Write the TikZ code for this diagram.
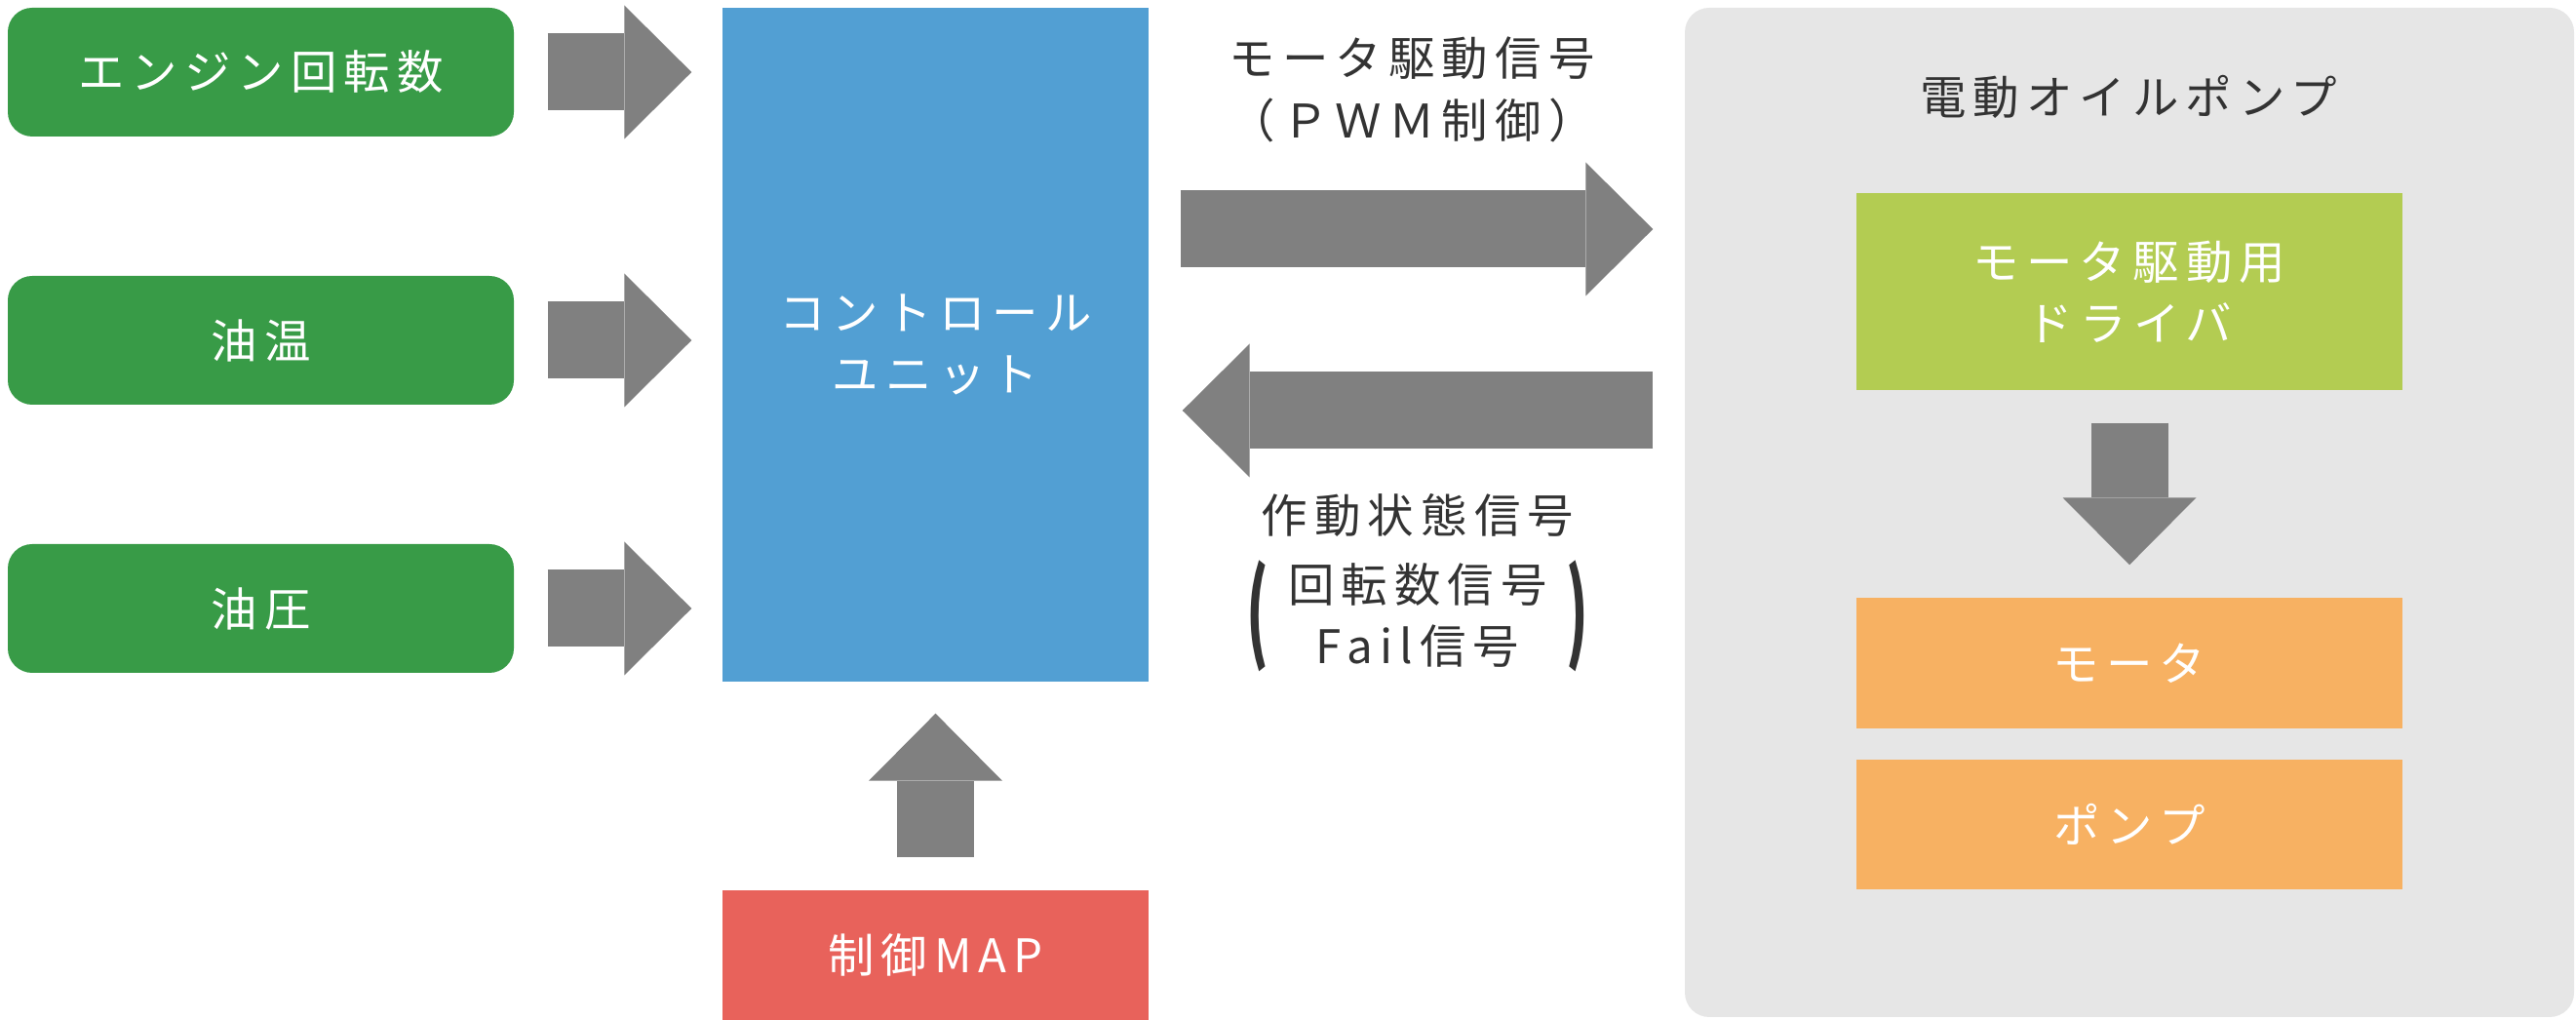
\documentclass[tikz,border=0pt]{standalone}
\usepackage{fontspec}
\setmainfont[LetterSpace=15]{Noto Sans CJK JP}
\usetikzlibrary{arrows.meta}

\definecolor{boxgreen}{HTML}{389B47}
\definecolor{cublue}{HTML}{529FD3}
\definecolor{mapred}{HTML}{E8625B}
\definecolor{drvlime}{HTML}{B3CC52}
\definecolor{partorange}{HTML}{F7B162}
\definecolor{arrowgray}{HTML}{808080}
\definecolor{panelgray}{HTML}{E6E6E6}
\definecolor{labelgray}{HTML}{333333}

\tikzset{
  inbox/.style={rounded corners=0.25cm, fill=boxgreen, text=white, minimum width=5.19cm, minimum height=1.32cm, inner sep=0pt},
  unitbox/.style={fill=#1, text=white, inner sep=0pt, align=center},
  lbl/.style={text=labelgray, inner sep=0pt, align=center},
  fatarrow/.style={draw=arrowgray, line width=0.79cm, -{Triangle[length=0.69cm, width=1.37cm, line width=0pt]}}
}

\begin{document}
\begin{tikzpicture}[every node/.style={font=\fontsize{13.5pt}{18pt}\selectfont}]
    \useasboundingbox (0,0) rectangle (26.42,10.46);

    % inputs
    \node[inbox] (rpm) at (2.675,9.72) {エンジン回転数};
    \node[inbox] (temp) at (2.675,6.97) {油温};
    \node[inbox] (press) at (2.675,4.22) {油圧};

    % control unit and map
    \node[unitbox=cublue, minimum width=4.37cm, minimum height=6.91cm] (cu) at (9.595,6.925) {コントロール\\ユニット};
    \node[unitbox=mapred, minimum width=4.37cm, minimum height=1.33cm] (map) at (9.595,0.665) {制御MAP};

    \draw[fatarrow] ([xshift=0.34cm]rpm.east) -- ([xshift=-0.31cm]rpm.east -| cu.west);
    \draw[fatarrow] ([xshift=0.34cm]temp.east) -- ([xshift=-0.31cm]temp.east -| cu.west);
    \draw[fatarrow] ([xshift=0.34cm]press.east) -- ([xshift=-0.31cm]press.east -| cu.west);
    \draw[fatarrow] ([yshift=0.33cm]map.north) -- ([yshift=-0.32cm]cu.south);

    % electric oil pump
    \node[fill=panelgray, rounded corners=0.25cm, minimum width=9.12cm, minimum height=10.35cm, inner sep=0pt] (eop) at (21.84,5.205) {};
    \node[lbl] (eoptitle) at (21.83,9.47) {電動オイルポンプ};
    \node[unitbox=drvlime, minimum width=5.6cm, minimum height=2.02cm] (drv) at (21.84,7.47) {モータ駆動用\\ドライバ};
    \node[unitbox=partorange, minimum width=5.6cm, minimum height=1.34cm] (mot) at (21.84,3.66) {モータ};
    \node[unitbox=partorange, minimum width=5.6cm, minimum height=1.33cm] (pump) at (21.84,2.005) {ポンプ};
    \draw[fatarrow] ([yshift=-0.33cm]drv.south) -- ([yshift=0.33cm]mot.north);

    % signals
    \draw[fatarrow] ([xshift=0.32cm,yshift=1.185cm]cu.east) -- ([xshift=-0.32cm,yshift=1.185cm]cu.east -| eop.west);
    \draw[fatarrow] ([xshift=-0.32cm,yshift=-0.675cm]cu.east -| eop.west) -- ([xshift=0.34cm,yshift=-0.675cm]cu.east);

    \node[lbl, align=left, anchor=west] (pwm) at (12.60,9.54) {モータ駆動信号\\（ＰＷＭ制御）};
    \node[lbl] (stat) at (14.54,5.18) {作動状態信号};
    \node[lbl] (fb) at (14.54,4.15) {回転数信号\\Fail信号};
    \node[lbl, font=\fontsize{13.5pt}{18pt}\selectfont\bfseries] (lpar) at (12.90,4.14) {\scalebox{1.2}[2.3]{(}};
    \node[lbl, font=\fontsize{13.5pt}{18pt}\selectfont\bfseries] (rpar) at (16.18,4.14) {\scalebox{1.2}[2.3]{)}};
\end{tikzpicture}
\end{document}
